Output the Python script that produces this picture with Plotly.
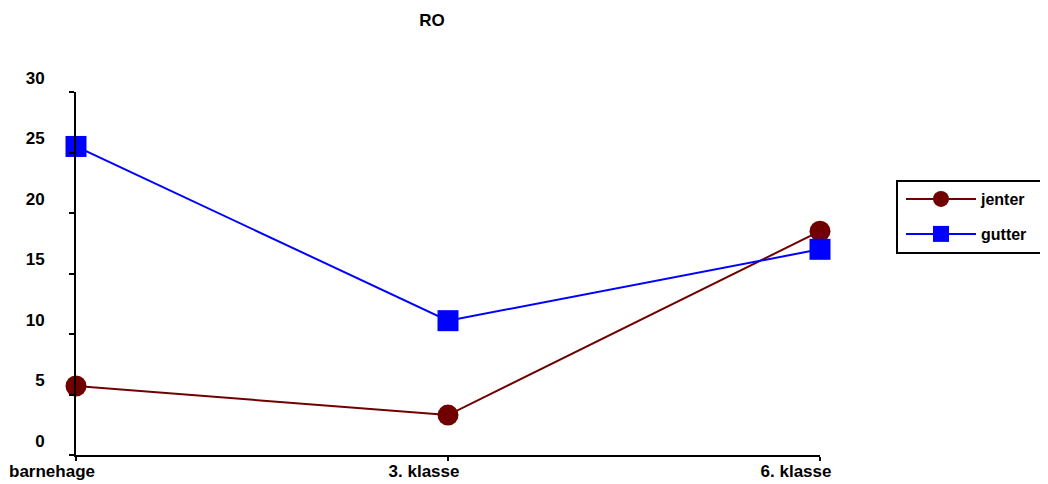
import plotly.graph_objects as go

categories = ["barnehage", "3. klasse", "6. klasse"]
jenter = [5.7, 3.3, 18.5]
gutter = [25.5, 11.1, 17.0]
y_ticks = [0, 5, 10, 15, 20, 25, 30]

xpos = list(range(len(categories)))
FAM = "Liberation Sans, Arial, sans-serif"
font_tick = dict(family=FAM, size=17, color="black", weight="bold")
font_leg = dict(family=FAM, size=16, color="black", weight="bold")

# page has an 8px body margin; figure is sized/positioned to compensate
OFF = 8
W, H = 1048 - OFF, 484 - OFF
PX_L, PX_R, PX_T, PX_B = 76, 820, 92, 455  # plot area in page pixels
PW, PH = PX_R - PX_L, PX_B - PX_T


def px_x(X):
    return (X - PX_L) / PW


def px_y(Y):
    return (PX_B - Y) / PH


fig = go.Figure()
fig.add_trace(go.Scatter(
    x=xpos, y=jenter, name="jenter", mode="lines+markers", legend="legend",
    line=dict(color="#700000", width=2),
    marker=dict(symbol="circle", size=21, color="#700000"),
    cliponaxis=False,
))
fig.add_trace(go.Scatter(
    x=xpos, y=gutter, name="gutter", mode="lines+markers", legend="legend2",
    line=dict(color="#0000ff", width=2),
    marker=dict(symbol="square", size=21, color="#0000ff"),
    cliponaxis=False,
))

leg_common = dict(xanchor="left", yanchor="middle", borderwidth=0, bgcolor="rgba(0,0,0,0)",
                  font=font_leg, itemwidth=70, itemsizing="trace")

fig.update_layout(
    width=W, height=H,
    margin=dict(l=PX_L - OFF, r=W - (PX_R - OFF), t=PX_T - OFF, b=H - (PX_B - OFF), autoexpand=False),
    paper_bgcolor="white", plot_bgcolor="white",
    title=dict(text="RO", x=(432 - OFF) / W, xanchor="center", yref="container",
               y=1 - (20 - OFF) / H, yanchor="middle", automargin=False,
               font=dict(family=FAM, size=17, color="black", weight="bold")),
    font=font_tick,
    showlegend=True,
    legend=dict(x=px_x(901), y=px_y(199), **leg_common),
    legend2=dict(x=px_x(901), y=px_y(234), **leg_common),
    shapes=[dict(type="rect", xref="paper", yref="paper",
                 x0=px_x(897), x1=px_x(1046), y0=px_y(253), y1=px_y(181),
                 line=dict(color="black", width=2), fillcolor="rgba(0,0,0,0)", layer="below")],
    xaxis=dict(
        range=[0, 2], tickmode="array", tickvals=xpos, ticktext=categories,
        showgrid=False, zeroline=False, showline=True, linecolor="black", linewidth=2,
        ticks="outside", ticklen=4, tickwidth=2, tickcolor="black",
        ticklabelshift=-24, ticklabelstandoff=-4, automargin=False,
        tickfont=font_tick,
    ),
    yaxis=dict(
        range=[0, 30], tickmode="array", tickvals=y_ticks,
        showgrid=False, zeroline=False, showline=True, linecolor="black", linewidth=2,
        ticks="outside", ticklen=5, tickwidth=2, tickcolor="black",
        ticklabelshift=-14, ticklabelstandoff=21, automargin=False,
        tickfont=font_tick,
    ),
)

fig.write_html("out.html")
